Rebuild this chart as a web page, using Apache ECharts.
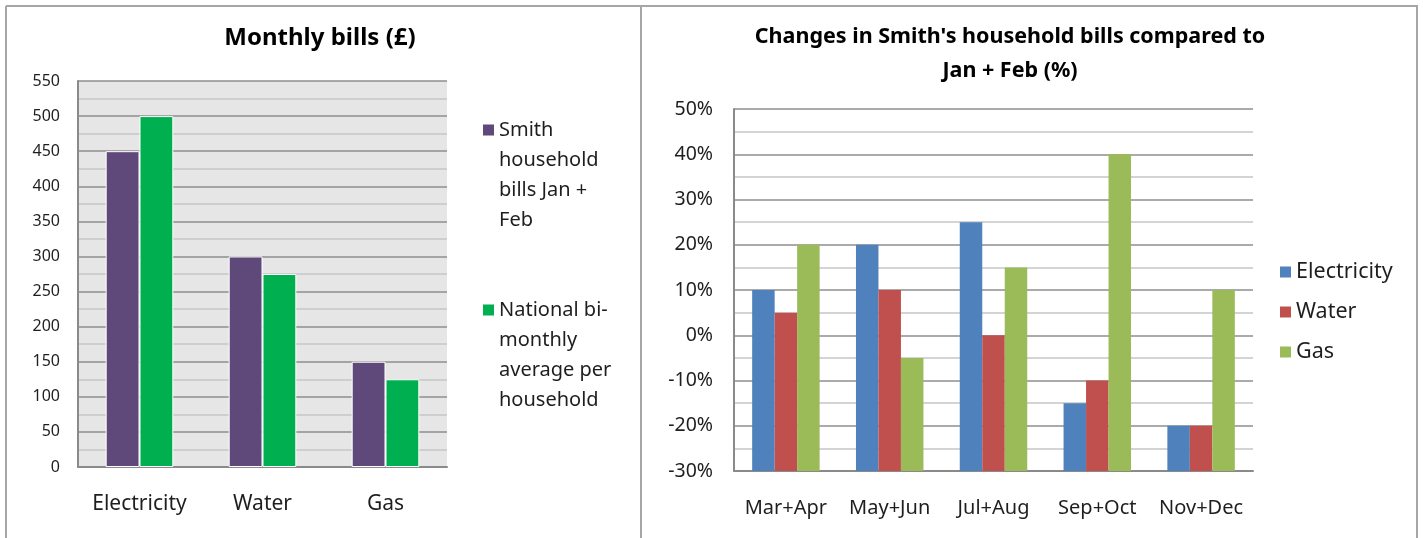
<!DOCTYPE html>
<html>
<head>
<meta charset="utf-8">
<script src="https://cdn.jsdelivr.net/npm/echarts@6/dist/echarts.min.js"></script>
<style>
html,body{margin:0;padding:0;background:#fff;}
#c{width:1423px;height:538px;}
</style>
</head>
<body>
<div id="c"></div>
<script>
// ---------- Data: left chart ----------
const billCategories = ['Electricity', 'Water', 'Gas'];
const smithJanFeb = [450, 300, 150];
const nationalAverage = [500, 275, 125];
const leftSeriesNames = ['Smith household bills Jan + Feb', 'National bi-monthly average per household'];
const leftLegendLines = ['Smith\nhousehold\nbills Jan +\nFeb', 'National bi-\nmonthly\naverage per\nhousehold'];
const leftTitle = 'Monthly bills (£)';

// ---------- Data: right chart ----------
const periods = ['Mar+Apr', 'May+Jun', 'Jul+Aug', 'Sep+Oct', 'Nov+Dec'];
const electricityChange = [10, 20, 25, -15, -20];
const waterChange = [5, 10, 0, -10, -20];
const gasChange = [20, -5, 15, 40, 10];
const rightSeriesNames = ['Electricity', 'Water', 'Gas'];
const rightTitle = "Changes in Smith's household bills compared to\nJan + Feb (%)";
const pctAxisMin = -30;   // horizontal axis crosses here; bars rise from it
const pctAxisMax = 50;

const FONT = "'Noto Sans', sans-serif";
const TXT = '#1e1e1e';

// Tall legend icon: square aligned with first text line
const tallIcon = 'path://M0,0h0.01v0.01h-0.01z M0,9.5h11v11h-11z M0,119.99h0.01v0.01h-0.01z';

const chart = echarts.init(document.getElementById('c'));

const majorGrid = {show: true, lineStyle: {color: '#8e8e8e', width: 1.5}};
const minorGrid = {show: true, lineStyle: {color: '#c6c6c6', width: 1.5}};
const axisLineStyle = {show: true, lineStyle: {color: '#8a8a8a', width: 2}};

const offsetData = arr => arr.map(v => v - pctAxisMin);

chart.setOption({
  animation: false,
  textStyle: {fontFamily: FONT},
  graphic: [
    {type: 'line', shape: {x1: 6, y1: 6, x2: 1418, y2: 6}, style: {stroke: '#a6a6a6', lineWidth: 2}},
    {type: 'line', shape: {x1: 6, y1: 6, x2: 6, y2: 538}, style: {stroke: '#a6a6a6', lineWidth: 2}},
    {type: 'line', shape: {x1: 641, y1: 6, x2: 641, y2: 538}, style: {stroke: '#a6a6a6', lineWidth: 2}},
    {type: 'line', shape: {x1: 1417, y1: 6, x2: 1417, y2: 538}, style: {stroke: '#a6a6a6', lineWidth: 2}},
    {type: 'text', x: 320, y: 38, style: {text: leftTitle, align: 'center', verticalAlign: 'middle',
      font: "bold 24px 'Noto Sans', sans-serif", fill: '#000'}},
    {type: 'text', x: 1010, y: 54, style: {text: rightTitle, align: 'center', verticalAlign: 'middle',
      font: "bold 21.5px 'Noto Sans', sans-serif", lineHeight: 34, fill: '#000'}}
  ],
  legend: [
    {
      data: leftSeriesNames.map(n => ({name: n, icon: tallIcon})),
      orient: 'vertical', left: 483, top: 115, padding: 0,
      itemWidth: 11, itemHeight: 120, itemGap: 60,
      selectedMode: false,
      formatter: name => leftLegendLines[leftSeriesNames.indexOf(name)],
      textStyle: {fontSize: 20, lineHeight: 30, color: TXT, fontFamily: FONT},
      itemStyle: {borderWidth: 0}
    },
    {
      data: rightSeriesNames.map(n => ({name: n, icon: 'rect'})),
      orient: 'vertical', left: 1280, top: 261, padding: 0,
      itemWidth: 11, itemHeight: 11, itemGap: 18,
      selectedMode: false,
      textStyle: {fontSize: 21.5, color: TXT, fontFamily: FONT},
      itemStyle: {borderWidth: 0}
    }
  ],
  grid: [
    {left: 78, top: 81, width: 369, height: 386, show: true, backgroundColor: '#e6e6e6', borderWidth: 0, containLabel: false},
    {left: 734, top: 109, width: 519, height: 362, show: false, containLabel: false}
  ],
  xAxis: [
    {type: 'category', gridIndex: 0, data: billCategories,
      axisLine: axisLineStyle, axisTick: {show: false},
      axisLabel: {margin: 27, fontSize: 21, color: TXT, fontFamily: FONT, interval: 0}},
    {type: 'category', gridIndex: 1, data: periods,
      axisLine: axisLineStyle, axisTick: {show: false},
      axisLabel: {margin: 27, fontSize: 20, color: TXT, fontFamily: FONT, interval: 0, hideOverlap: false}}
  ],
  yAxis: [
    {type: 'value', gridIndex: 0, min: 0, max: 550, interval: 50,
      axisLine: axisLineStyle, axisTick: {show: false},
      axisLabel: {margin: 18, fontSize: 16, color: TXT, fontFamily: FONT},
      splitLine: majorGrid,
      minorTick: {show: false, splitNumber: 2},
      minorSplitLine: minorGrid},
    {type: 'value', gridIndex: 1, min: 0, max: pctAxisMax - pctAxisMin, interval: 10,
      axisLine: axisLineStyle, axisTick: {show: false},
      axisLabel: {margin: 21, fontSize: 19.5, color: TXT, fontFamily: FONT,
        formatter: v => (v + pctAxisMin) + '%'},
      splitLine: majorGrid,
      minorTick: {show: false, splitNumber: 2},
      minorSplitLine: minorGrid}
  ],
  series: [
    {type: 'bar', name: leftSeriesNames[0], xAxisIndex: 0, yAxisIndex: 0, data: smithJanFeb,
      barGap: '0%', barCategoryGap: '45%',
      itemStyle: {color: '#5f497a', borderColor: '#ffffff', borderWidth: 1}},
    {type: 'bar', name: leftSeriesNames[1], xAxisIndex: 0, yAxisIndex: 0, data: nationalAverage,
      barGap: '0%', barCategoryGap: '45%',
      itemStyle: {color: '#00b050', borderColor: '#ffffff', borderWidth: 1}},
    {type: 'bar', name: rightSeriesNames[0], xAxisIndex: 1, yAxisIndex: 1, data: offsetData(electricityChange),
      barGap: '0%', barCategoryGap: '35%', itemStyle: {color: '#4f81bd'}},
    {type: 'bar', name: rightSeriesNames[1], xAxisIndex: 1, yAxisIndex: 1, data: offsetData(waterChange),
      barGap: '0%', barCategoryGap: '35%', itemStyle: {color: '#c0504d'}},
    {type: 'bar', name: rightSeriesNames[2], xAxisIndex: 1, yAxisIndex: 1, data: offsetData(gasChange),
      barGap: '0%', barCategoryGap: '35%', itemStyle: {color: '#9bbb59'}}
  ]
});
</script>
</body>
</html>
